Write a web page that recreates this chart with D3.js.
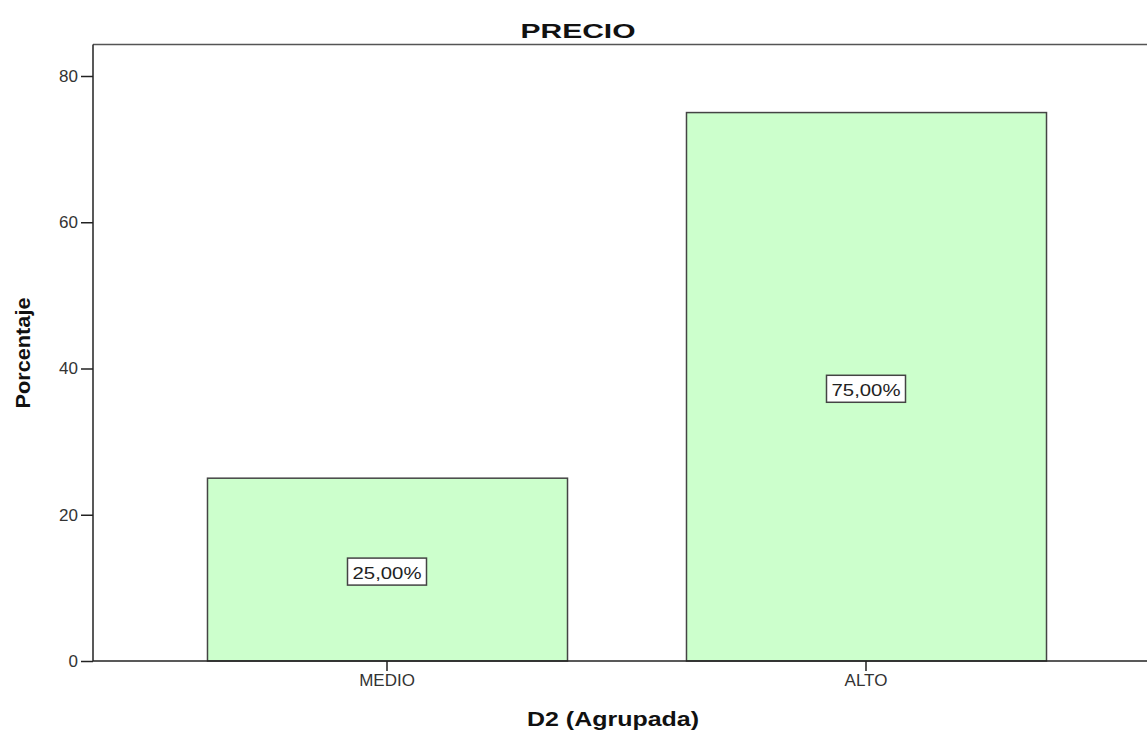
<!DOCTYPE html>
<html>
<head>
<meta charset="utf-8">
<script src="https://cdn.jsdelivr.net/npm/d3@7"></script>
<style>
  html, body { margin: 0; padding: 0; background: #fff; }
  text { font-family: "Liberation Sans", Arial, sans-serif; }
</style>
</head>
<body>
<svg id="chart" width="1147" height="731"></svg>
<script>
// Chart data
const categories = ["MEDIO", "ALTO"];
const values = [25, 75];
const valueLabels = ["25,00%", "75,00%"];
const yTicks = [0, 20, 40, 60, 80];

const title = "PRECIO";
const xTitle = "D2 (Agrupada)";
const yTitle = "Porcentaje";

const svg = d3.select("#chart");
const W = 1147, H = 731;
const plotLeft = 93, plotTop = 44.5, plotBottom = 661;
const FONT = "'Liberation Sans', Arial, sans-serif";

const y = d3.scaleLinear().domain([0, 80]).range([plotBottom, 76]);
const pi = 0.2484;
const x = d3.scaleBand().domain(categories)
  .range([147.5, 1105.5]).paddingInner(pi).paddingOuter(pi / 2);

// Frame (top edge)
svg.append("line").attr("x1", plotLeft).attr("x2", W).attr("y1", plotTop).attr("y2", plotTop)
  .attr("stroke", "#555").attr("stroke-width", 1.5);

// Bars
svg.selectAll("rect.bar").data(values).join("rect")
  .attr("class", "bar")
  .attr("x", (d, i) => x(categories[i]) + 0.5)
  .attr("y", d => y(d))
  .attr("width", x.bandwidth())
  .attr("height", d => plotBottom - y(d))
  .attr("fill", "#ccffcc")
  .attr("stroke", "#444")
  .attr("stroke-width", 1.5);

// Y axis
const yAxis = d3.axisLeft(y).tickValues(yTicks).tickSize(12).tickPadding(3).tickFormat(d3.format("d"));
const gy = svg.append("g").attr("transform", `translate(${plotLeft},0)`).call(yAxis);
gy.select(".domain").attr("d", `M0,${plotTop}V${plotBottom}`).attr("stroke", "#222").attr("stroke-width", 1.5);
gy.selectAll(".tick line").attr("stroke", "#222").attr("stroke-width", 1.5);
gy.selectAll(".tick text").attr("font-size", 17).attr("fill", "#333").attr("font-family", FONT);

// X axis
const xAxis = d3.axisBottom(x).tickSize(10).tickPadding(3);
const gx = svg.append("g").attr("transform", `translate(0,${plotBottom})`).call(xAxis);
gx.select(".domain").attr("d", `M${plotLeft},0H${W}`).attr("stroke", "#222").attr("stroke-width", 1.5);
gx.selectAll(".tick line").attr("stroke", "#222").attr("stroke-width", 1.5);
gx.selectAll(".tick text").attr("font-size", 17).attr("fill", "#333").attr("font-family", FONT);

// Value labels in boxes
const lab = svg.selectAll("g.vlab").data(values).join("g")
  .attr("class", "vlab")
  .attr("transform", (d, i) => `translate(${x(categories[i]) + x.bandwidth() / 2},${y(d / 2)})`);
lab.append("rect")
  .attr("x", -39.5).attr("y", -11.5).attr("width", 79).attr("height", 27)
  .attr("fill", "#fff").attr("stroke", "#444").attr("stroke-width", 1.5);
lab.append("text")
  .attr("text-anchor", "middle").attr("x", 0).attr("y", 9)
  .attr("font-size", 16.5).attr("fill", "#222")
  .attr("textLength", 69).attr("lengthAdjust", "spacingAndGlyphs")
  .text((d, i) => valueLabels[i]);

// Titles
svg.append("text").attr("x", 578).attr("y", 38).attr("text-anchor", "middle")
  .attr("font-size", 21).attr("font-weight", "bold").attr("fill", "#111")
  .attr("textLength", 115).attr("lengthAdjust", "spacingAndGlyphs").text(title);
svg.append("text").attr("x", 613).attr("y", 726).attr("text-anchor", "middle")
  .attr("font-size", 21).attr("font-weight", "bold").attr("fill", "#111")
  .attr("textLength", 172).attr("lengthAdjust", "spacingAndGlyphs").text(xTitle);
svg.append("text").attr("transform", "translate(30,353) rotate(-90)").attr("text-anchor", "middle")
  .attr("font-size", 20).attr("font-weight", "bold").attr("fill", "#111")
  .attr("textLength", 111).attr("lengthAdjust", "spacingAndGlyphs").text(yTitle);
</script>
</body>
</html>
